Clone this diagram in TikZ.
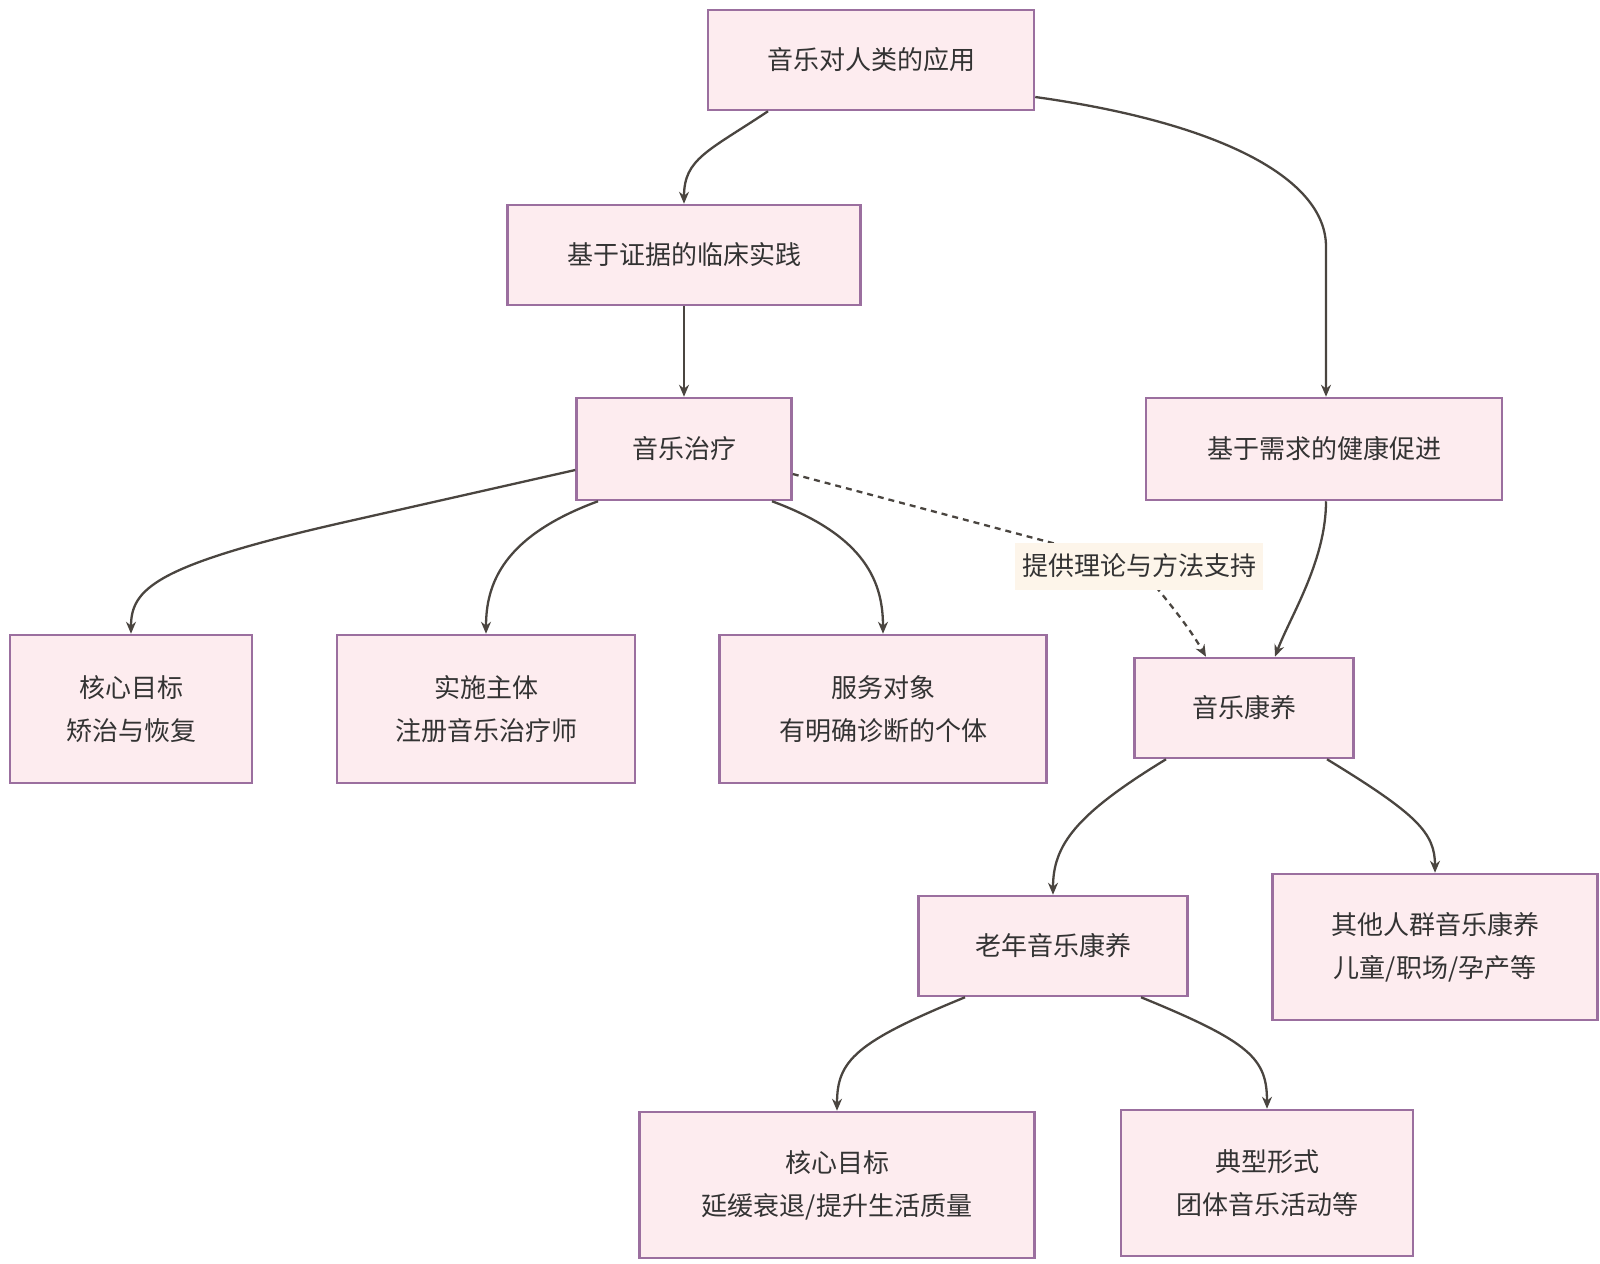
\documentclass[tikz,border=0pt]{standalone}
\usepackage{fontspec}
\setmainfont{Noto Sans CJK SC}
\usetikzlibrary{arrows.meta,calc}
\definecolor{boxfill}{HTML}{FDECEF}
\definecolor{boxline}{HTML}{9B6F9F}
\definecolor{edgecol}{HTML}{4A4540}
\definecolor{lblfill}{HTML}{FDF5EA}
\definecolor{txt}{HTML}{333333}
\begin{document}
\begin{tikzpicture}[x=1pt,y=-1pt,
  box/.style={draw=boxline,fill=boxfill,line width=2.5pt,align=center,text=txt,
    font=\fontsize{26}{43}\selectfont,inner sep=0pt},
  conn/.style={draw=edgecol,line width=2.3pt,-{Stealth[length=12pt,width=10pt]}},
  dconn/.style={conn,dash pattern=on 6pt off 5pt},
  lbl/.style={fill=lblfill,text=txt,font=\fontsize{26}{30}\selectfont,inner sep=0pt,
    minimum width=248pt,minimum height=47pt}]
\useasboundingbox (0,0) rectangle (1600,1263);
\node[box,minimum width=326pt,minimum height=100pt] (top) at (871,60) {音乐对人类的应用};
\node[box,minimum width=353pt,minimum height=100pt] (ev) at (684,255) {基于证据的临床实践};
\node[box,minimum width=215pt,minimum height=102pt] (mt) at (684,449) {音乐治疗};
\node[box,minimum width=356pt,minimum height=102pt] (need) at (1324,449) {基于需求的健康促进};
\node[box,minimum width=242pt,minimum height=148pt] (g1) at (131,709) {核心目标\\矫治与恢复};
\node[box,minimum width=298pt,minimum height=148pt] (g2) at (486,709) {实施主体\\注册音乐治疗师};
\node[box,minimum width=327pt,minimum height=148pt] (g3) at (883,709) {服务对象\\有明确诊断的个体};
\node[box,minimum width=219pt,minimum height=100pt] (mk) at (1244,708) {音乐康养};
\node[box,minimum width=269pt,minimum height=100pt] (old) at (1053,946) {老年音乐康养};
\node[box,minimum width=325pt,minimum height=146pt] (oth) at (1435,947) {其他人群音乐康养\\儿童/职场/孕产等};
\node[box,minimum width=395pt,minimum height=146pt] (t1) at (837,1185) {核心目标\\延缓衰退/提升生活质量};
\node[box,minimum width=292pt,minimum height=146pt] (t2) at (1267,1183) {典型形式\\团体音乐活动等};
\coordinate (lblc) at (1139,566);
% edges
\draw[conn] ($(top.south)+(-103,0)$) .. controls +(-60,40) and +(0,-45) .. (ev.north);
\draw[conn] ($(top.east)+(0,37)$) .. controls +(180,25) and +(0,-70) .. ($(need.north)+(2,-150)$) -- ($(need.north)+(2,0)$);
\draw[conn] (ev.south) -- (mt.north);
\draw[conn] ($(mt.west)+(0,21)$) -- ++(-230,52) .. controls +(-190,43) and +(0,-45) .. (g1.north);
\draw[conn] ($(mt.south)+(-86,0)$) .. controls +(-95,35) and +(0,-50) .. (g2.north);
\draw[conn] ($(mt.south)+(88,0)$) .. controls +(95,35) and +(0,-50) .. (g3.north);
\draw[dconn] ($(mt.east)+(0,25)$) -- (lblc) .. controls +(20,25) and +(-20,-35) .. ($(mk.north)+(-38,0)$);
\draw[conn] ($(need.south)+(2,0)$) .. controls +(0,60) and +(15,-40) .. ($(mk.north)+(31,0)$);
\draw[conn] ($(mk.south)+(-78,0)$) .. controls +(-90,55) and +(0,-50) .. (old.north);
\draw[conn] ($(mk.south)+(83,0)$) .. controls +(90,55) and +(0,-40) .. (oth.north);
\draw[conn] ($(old.south)+(-88,0)$) .. controls +(-110,45) and +(0,-50) .. (t1.north);
\draw[conn] ($(old.south)+(88,0)$) .. controls +(110,45) and +(0,-50) .. (t2.north);
\node[lbl] (lbl) at (lblc) {提供理论与方法支持};
\end{tikzpicture}
\end{document}
